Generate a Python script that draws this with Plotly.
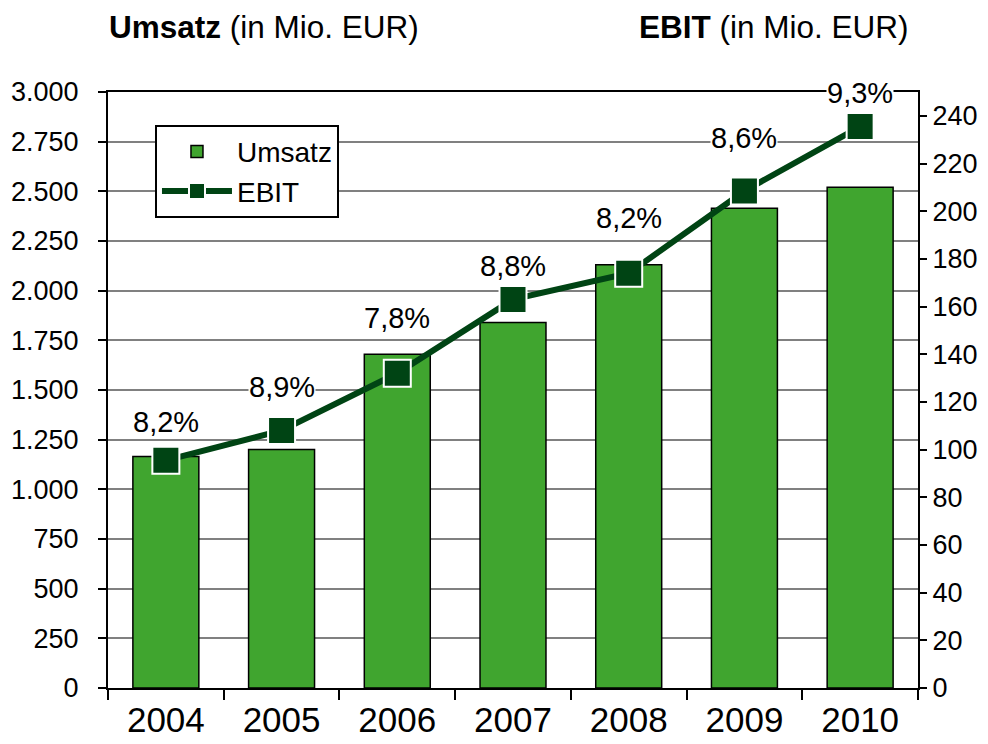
import plotly.graph_objects as go

jahre = ["2004", "2005", "2006", "2007", "2008", "2009", "2010"]
umsatz = [1165, 1200, 1680, 1840, 2130, 2415, 2520]
ebit = [95.5, 108, 132, 163, 174, 208.5, 235.5]
marge = ["8,2%", "8,9%", "7,8%", "8,8%", "8,2%", "8,6%", "9,3%"]

left_ticks = list(range(0, 3001, 250))
left_labels = ["{:,}".format(v).replace(",", ".") for v in left_ticks]

fnt = "Liberation Sans, Arial, sans-serif"
bar_green = "#40A52F"
dark_green = "#004414"

fig = go.Figure()
fig.add_trace(go.Bar(
    x=jahre, y=umsatz, name="Umsatz",
    marker=dict(color=bar_green, line=dict(color="black", width=1.5)),
    width=0.57,
))
fig.add_trace(go.Scatter(
    x=jahre, y=ebit, name="EBIT", yaxis="y2", mode="lines+markers",
    line=dict(color=dark_green, width=6),
    marker=dict(symbol="square", size=27, color=dark_green,
                line=dict(color="white", width=2)),
))

# margin labels above the EBIT markers (x given as category index)
shifts = [38, 44, 55, 33, 55, 53, 34]
for i, (e, m, s) in enumerate(zip(ebit, marge, shifts)):
    fig.add_annotation(x=i, y=e, yref="y2", text=m, showarrow=False,
                       yshift=s, font=dict(size=29, color="black", family=fnt),
                       bgcolor="white", borderpad=0)

fig.add_annotation(x=0, xref="paper", y=1.0, yref="paper", yshift=65,
                   xanchor="left", yanchor="middle", showarrow=False,
                   text="<b>Umsatz</b> (in Mio. EUR)", borderpad=0,
                   font=dict(size=31.5, color="black", family=fnt))
fig.add_annotation(x=0.99, xref="paper", y=1.0, yref="paper", yshift=65,
                   xanchor="right", yanchor="middle", showarrow=False,
                   text="<b>EBIT</b> (in Mio. EUR)", borderpad=0,
                   font=dict(size=31.5, color="black", family=fnt))

fig.update_layout(
    width=988, height=744,
    margin=dict(l=100, r=78, t=84, b=64, autoexpand=False),
    paper_bgcolor="white", plot_bgcolor="white",
    font=dict(family=fnt, color="black"),
    bargap=0.43,
    xaxis=dict(
        type="category", range=[-0.5, 6.5],
        showline=True, linecolor="black", linewidth=2, mirror=True,
        ticks="outside", ticklen=10, tickwidth=2, tickcolor="black",
        tickson="boundaries", tickfont=dict(size=35), tickangle=0,
        showgrid=False,
    ),
    yaxis=dict(
        range=[0, 3000], tickvals=left_ticks, ticktext=left_labels,
        showline=True, linecolor="black", linewidth=2,
        ticks="outside", ticklen=8, tickwidth=2, tickcolor="black",
        tickfont=dict(size=27), ticklabelstandoff=14,
        showgrid=True, gridcolor="#808080", gridwidth=2, zeroline=False,
    ),
    yaxis2=dict(
        range=[0, 250], tickvals=list(range(0, 241, 20)),
        overlaying="y", side="right",
        showline=True, linecolor="black", linewidth=2,
        ticks="outside", ticklen=7, tickwidth=2, tickcolor="black",
        tickfont=dict(size=27), showgrid=False, zeroline=False,
    ),
    legend=dict(
        x=0.058, y=0.945, xanchor="left", yanchor="top",
        bgcolor="white", bordercolor="black", borderwidth=2,
        font=dict(size=28), itemwidth=70, tracegroupgap=4,
    ),
)

fig.write_html("out.html")
